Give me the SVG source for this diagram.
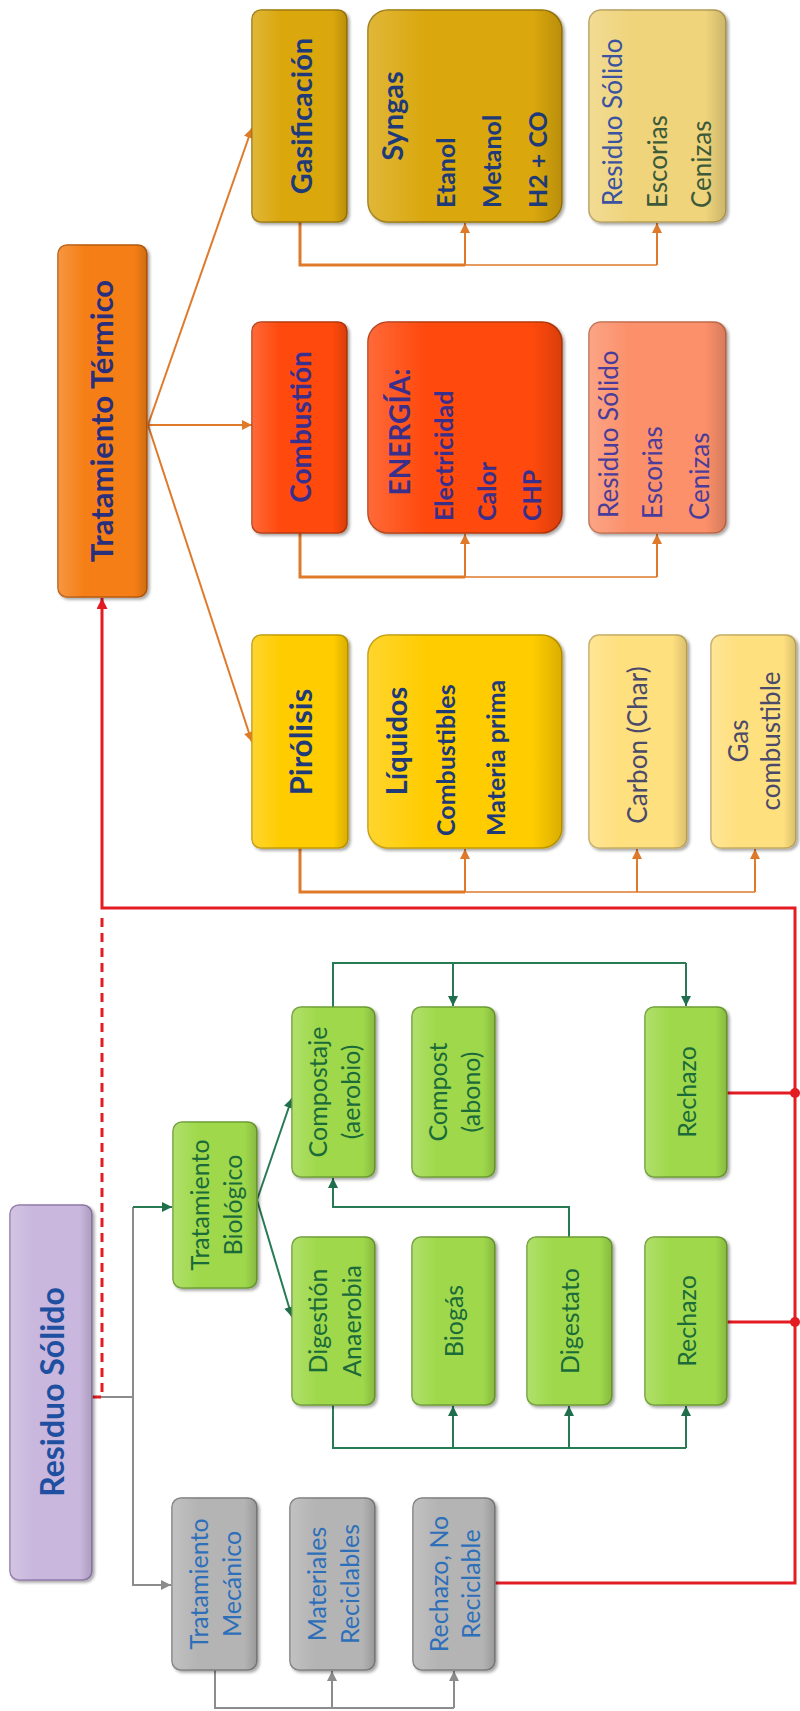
<svg xmlns="http://www.w3.org/2000/svg" width="800" height="1711" viewBox="0 0 800 1711">
<style>
text{font-family:Lato,"Open Sans","Liberation Sans",sans-serif;}
.box{filter:url(#sh);stroke-width:1.5;}
.pur{fill:#c9b7dd;stroke:#8e79a8;}
.ter{fill:#f57f17;stroke:#b85c0c;}
.red{fill:#ff4a0c;stroke:#b5380a;}
.sal{fill:#fb906a;stroke:#c26b4b;}
.gold{fill:#daa70f;stroke:#9c7808;}
.lgold{fill:#efd47b;stroke:#b59d58;}
.yel{fill:#ffcc06;stroke:#c29b05;}
.lyel{fill:#ffe07f;stroke:#c4ab60;}
.grn{fill:#9fd94c;stroke:#6d9d33;}
.gry{fill:#b4b4b4;stroke:#7e7e7e;}
.gl{fill:url(#gloss);stroke:none;pointer-events:none;}
.c-or{fill:none;stroke:#e07a2b;stroke-width:2;}
.c-gn{fill:none;stroke:#287a55;stroke-width:2;}
.c-gy{fill:none;stroke:#8c8c8c;stroke-width:2;}
.c-rd{fill:none;stroke:#e31b23;stroke-width:3;}
.t-main{fill:#1f4fa0;font-size:32px;font-weight:bold;}
.t-ter{fill:#2a2f7c;font-size:31px;font-weight:bold;}
.t-h{fill:#1f3a78;font-size:29px;font-weight:bold;}
.t-hc{fill:#3a2f8a;font-size:28px;font-weight:bold;}
.t-s{fill:#1f3a78;font-size:25px;font-weight:bold;}
.t-sc{fill:#3a2f8a;font-size:25px;font-weight:bold;}
.t-rs{fill:#4a3c9a;font-size:26px;}
.t-rg{fill:#3a52a0;font-size:26px;}
.t-rg2{fill:#3c5a3a;font-size:26px;}
.t-ly{fill:#4a4a6a;font-size:26px;}
.t-g{fill:#1a6a3a;font-size:25px;}
.t-gy{fill:#2e6fba;font-size:25px;}
</style>
<defs>
<filter id="sh" x="-20%" y="-20%" width="140%" height="140%">
<feDropShadow dx="2" dy="2" stdDeviation="1.5" flood-color="#000" flood-opacity="0.35"/>
</filter>
<linearGradient id="gloss" x1="0" y1="0" x2="1" y2="0">
<stop offset="0" stop-color="#fff" stop-opacity="0.18"/>
<stop offset="0.3" stop-color="#fff" stop-opacity="0"/>
<stop offset="0.85" stop-color="#000" stop-opacity="0"/>
<stop offset="1" stop-color="#000" stop-opacity="0.15"/>
</linearGradient>
<marker id="aOr" viewBox="0 0 10 10" refX="10" refY="5" markerWidth="11" markerHeight="10" markerUnits="userSpaceOnUse" orient="auto"><path d="M0,0L10,5L0,10z" fill="#e07a2b"/></marker>
<marker id="aGn" viewBox="0 0 10 10" refX="10" refY="5" markerWidth="11" markerHeight="10" markerUnits="userSpaceOnUse" orient="auto"><path d="M0,0L10,5L0,10z" fill="#1f6e4c"/></marker>
<marker id="aGy" viewBox="0 0 10 10" refX="10" refY="5" markerWidth="11" markerHeight="10" markerUnits="userSpaceOnUse" orient="auto"><path d="M0,0L10,5L0,10z" fill="#8c8c8c"/></marker>
<marker id="aRd" viewBox="0 0 10 10" refX="10" refY="5" markerWidth="13" markerHeight="11" markerUnits="userSpaceOnUse" orient="auto"><path d="M0,0L10,5L0,10z" fill="#e31b23"/></marker>
</defs>

<g id="connectors">
<path class="c-or" d="M148,425L252,128" marker-end="url(#aOr)"/>
<path class="c-or" d="M148,425L252,425" marker-end="url(#aOr)"/>
<path class="c-or" d="M148,425L252,742" marker-end="url(#aOr)"/>
<path class="c-or" d="M300,848V892H465" style="stroke-width:3"/>
<path class="c-or" d="M465,892H755" style="stroke-width:1.6"/>
<path class="c-or" d="M465,892V849" marker-end="url(#aOr)"/>
<path class="c-or" d="M637,892V849" marker-end="url(#aOr)"/>
<path class="c-or" d="M755,892V849" marker-end="url(#aOr)"/>
<path class="c-or" d="M300,533V577H465" style="stroke-width:3"/>
<path class="c-or" d="M465,577H657" style="stroke-width:1.6"/>
<path class="c-or" d="M465,577V534" marker-end="url(#aOr)"/>
<path class="c-or" d="M657,577V534" marker-end="url(#aOr)"/>
<path class="c-or" d="M300,222V265H465" style="stroke-width:3"/>
<path class="c-or" d="M465,265H657" style="stroke-width:1.6"/>
<path class="c-or" d="M465,265V223" marker-end="url(#aOr)"/>
<path class="c-or" d="M657,265V223" marker-end="url(#aOr)"/>
<path class="c-gy" d="M133,1397V1207"/>
<path class="c-gn" d="M133,1207H172" marker-end="url(#aGn)"/>
<path class="c-gn" d="M257,1200L292,1098" marker-end="url(#aGn)"/>
<path class="c-gn" d="M257,1200L292,1317" marker-end="url(#aGn)"/>
<path class="c-gn" d="M333,1405V1448H686"/>
<path class="c-gn" d="M453,1448V1406" marker-end="url(#aGn)"/>
<path class="c-gn" d="M569,1448V1406" marker-end="url(#aGn)"/>
<path class="c-gn" d="M686,1448V1406" marker-end="url(#aGn)"/>
<path class="c-gn" d="M569,1237V1207H333V1178" marker-end="url(#aGn)"/>
<path class="c-gn" d="M333,1007V963H686"/>
<path class="c-gn" d="M453,963V1006" marker-end="url(#aGn)"/>
<path class="c-gn" d="M686,963V1006" marker-end="url(#aGn)"/>
<path class="c-gy" d="M92,1397H133V1585H171" marker-end="url(#aGy)"/>
<path class="c-gy" d="M215,1670V1708H454"/>
<path class="c-gy" d="M332,1708V1671" marker-end="url(#aGy)"/>
<path class="c-gy" d="M454,1708V1671" marker-end="url(#aGy)"/>
<path class="c-rd" d="M92,1397H102V913" stroke-dasharray="9,6"/>
<path class="c-rd" d="M495,1583H795V908H102V598" marker-end="url(#aRd)"/>
<path class="c-rd" d="M727,1322H795"/>
<path class="c-rd" d="M727,1093H795"/>
<circle cx="795" cy="1322" r="5" fill="#e31b23"/>
<circle cx="795" cy="1093" r="5" fill="#e31b23"/>
</g>

<g id="residuo-solido">
<rect class="box pur" x="10" y="1205" width="82" height="375" rx="9"/>
<rect class="gl" x="10" y="1205" width="82" height="375" rx="9"/>
<text class="t-main" transform="translate(51,1392) rotate(-90)" text-anchor="middle" dominant-baseline="central">Residuo Sólido</text>
</g>

<g id="tratamiento-termico">
<rect class="box ter" x="58" y="245" width="89" height="352" rx="9"/>
<rect class="gl" x="58" y="245" width="89" height="352" rx="9"/>
<text class="t-ter" transform="translate(101,421) rotate(-90)" text-anchor="middle" dominant-baseline="central">Tratamiento Térmico</text>
</g>

<g id="gasificacion">
<rect class="box gold" x="252" y="10" width="95" height="212" rx="9"/>
<rect class="gl" x="252" y="10" width="95" height="212" rx="9"/>
<text class="t-h" transform="translate(300,116) rotate(-90)" text-anchor="middle" dominant-baseline="central">Gasificación</text>
</g>
<g id="syngas">
<rect class="box gold" x="368" y="10" width="194" height="212" rx="20"/>
<rect class="gl" x="368" y="10" width="194" height="212" rx="20"/>
<text class="t-h" transform="translate(391,116) rotate(-90)" text-anchor="middle" dominant-baseline="central">Syngas</text>
<text class="t-s" transform="translate(445,208) rotate(-90)" dominant-baseline="central">Etanol</text>
<text class="t-s" transform="translate(491,208) rotate(-90)" dominant-baseline="central">Metanol</text>
<text class="t-s" transform="translate(537,208) rotate(-90)" dominant-baseline="central">H2 + CO</text>
</g>
<g id="residuo-gasificacion">
<rect class="box lgold" x="589" y="10" width="137" height="212" rx="12"/>
<rect class="gl" x="589" y="10" width="137" height="212" rx="12"/>
<text class="t-rg" transform="translate(612,206) rotate(-90)" dominant-baseline="central">Residuo Sólido</text>
<text class="t-rg2" transform="translate(657,208) rotate(-90)" dominant-baseline="central">Escorias</text>
<text class="t-rg2" transform="translate(701,208) rotate(-90)" dominant-baseline="central">Cenizas</text>
</g>

<g id="combustion">
<rect class="box red" x="252" y="322" width="95" height="211" rx="9"/>
<rect class="gl" x="252" y="322" width="95" height="211" rx="9"/>
<text class="t-hc" transform="translate(300,427) rotate(-90)" text-anchor="middle" dominant-baseline="central">Combustión</text>
</g>
<g id="energia">
<rect class="box red" x="368" y="322" width="194" height="211" rx="20"/>
<rect class="gl" x="368" y="322" width="194" height="211" rx="20"/>
<text class="t-hc" transform="translate(399,432) rotate(-90)" text-anchor="middle" dominant-baseline="central">ENERGÍA:</text>
<text class="t-sc" transform="translate(443,521) rotate(-90)" dominant-baseline="central">Electricidad</text>
<text class="t-sc" transform="translate(486,521) rotate(-90)" dominant-baseline="central">Calor</text>
<text class="t-sc" transform="translate(531,521) rotate(-90)" dominant-baseline="central">CHP</text>
</g>
<g id="residuo-combustion">
<rect class="box sal" x="589" y="322" width="137" height="211" rx="12"/>
<rect class="gl" x="589" y="322" width="137" height="211" rx="12"/>
<text class="t-rs" transform="translate(608,518) rotate(-90)" dominant-baseline="central">Residuo Sólido</text>
<text class="t-rs" transform="translate(652,519) rotate(-90)" dominant-baseline="central">Escorias</text>
<text class="t-rs" transform="translate(699,520) rotate(-90)" dominant-baseline="central">Cenizas</text>
</g>

<g id="pirolisis">
<rect class="box yel" x="252" y="635" width="96" height="213" rx="9"/>
<rect class="gl" x="252" y="635" width="96" height="213" rx="9"/>
<text class="t-h" transform="translate(300,742) rotate(-90)" text-anchor="middle" dominant-baseline="central" style="font-size:31px">Pirólisis</text>
</g>
<g id="liquidos">
<rect class="box yel" x="368" y="635" width="194" height="213" rx="20"/>
<rect class="gl" x="368" y="635" width="194" height="213" rx="20"/>
<text class="t-h" transform="translate(395,741) rotate(-90)" text-anchor="middle" dominant-baseline="central">Líquidos</text>
<text class="t-s" transform="translate(445,836) rotate(-90)" dominant-baseline="central">Combustibles</text>
<text class="t-s" transform="translate(495,836) rotate(-90)" dominant-baseline="central">Materia prima</text>
</g>
<g id="carbon">
<rect class="box lyel" x="589" y="635" width="98" height="213" rx="10"/>
<rect class="gl" x="589" y="635" width="98" height="213" rx="10"/>
<text class="t-ly" transform="translate(637,745) rotate(-90)" text-anchor="middle" dominant-baseline="central">Carbon (Char)</text>
</g>
<g id="gas-combustible">
<rect class="box lyel" x="711" y="635" width="85" height="213" rx="10"/>
<rect class="gl" x="711" y="635" width="85" height="213" rx="10"/>
<text class="t-ly" transform="translate(738,741) rotate(-90)" text-anchor="middle" dominant-baseline="central">Gas</text>
<text class="t-ly" transform="translate(770,741) rotate(-90)" text-anchor="middle" dominant-baseline="central">combustible</text>
</g>

<g id="tratamiento-biologico">
<rect class="box grn" x="173" y="1122" width="84" height="166" rx="9"/>
<rect class="gl" x="173" y="1122" width="84" height="166" rx="9"/>
<text class="t-g" transform="translate(199,1205) rotate(-90)" text-anchor="middle" dominant-baseline="central">Tratamiento</text>
<text class="t-g" transform="translate(232,1205) rotate(-90)" text-anchor="middle" dominant-baseline="central">Biológico</text>
</g>
<g id="compostaje">
<rect class="box grn" x="292" y="1007" width="83" height="170" rx="9"/>
<rect class="gl" x="292" y="1007" width="83" height="170" rx="9"/>
<text class="t-g" transform="translate(317,1092) rotate(-90)" text-anchor="middle" dominant-baseline="central">Compostaje</text>
<text class="t-g" transform="translate(350,1092) rotate(-90)" text-anchor="middle" dominant-baseline="central">(aerobio)</text>
</g>
<g id="compost">
<rect class="box grn" x="412" y="1007" width="83" height="170" rx="9"/>
<rect class="gl" x="412" y="1007" width="83" height="170" rx="9"/>
<text class="t-g" transform="translate(437,1092) rotate(-90)" text-anchor="middle" dominant-baseline="central">Compost</text>
<text class="t-g" transform="translate(470,1092) rotate(-90)" text-anchor="middle" dominant-baseline="central">(abono)</text>
</g>
<g id="rechazo-compostaje">
<rect class="box grn" x="645" y="1007" width="82" height="170" rx="9"/>
<rect class="gl" x="645" y="1007" width="82" height="170" rx="9"/>
<text class="t-g" transform="translate(686,1092) rotate(-90)" text-anchor="middle" dominant-baseline="central">Rechazo</text>
</g>
<g id="digestion">
<rect class="box grn" x="292" y="1237" width="83" height="168" rx="9"/>
<rect class="gl" x="292" y="1237" width="83" height="168" rx="9"/>
<text class="t-g" transform="translate(317,1321) rotate(-90)" text-anchor="middle" dominant-baseline="central">Digestión</text>
<text class="t-g" transform="translate(351,1321) rotate(-90)" text-anchor="middle" dominant-baseline="central">Anaerobia</text>
</g>
<g id="biogas">
<rect class="box grn" x="412" y="1237" width="83" height="168" rx="9"/>
<rect class="gl" x="412" y="1237" width="83" height="168" rx="9"/>
<text class="t-g" transform="translate(453,1321) rotate(-90)" text-anchor="middle" dominant-baseline="central">Biogás</text>
</g>
<g id="digestato">
<rect class="box grn" x="527" y="1237" width="85" height="168" rx="9"/>
<rect class="gl" x="527" y="1237" width="85" height="168" rx="9"/>
<text class="t-g" transform="translate(569,1321) rotate(-90)" text-anchor="middle" dominant-baseline="central">Digestato</text>
</g>
<g id="rechazo-digestion">
<rect class="box grn" x="645" y="1237" width="82" height="168" rx="9"/>
<rect class="gl" x="645" y="1237" width="82" height="168" rx="9"/>
<text class="t-g" transform="translate(686,1321) rotate(-90)" text-anchor="middle" dominant-baseline="central">Rechazo</text>
</g>

<g id="tratamiento-mecanico">
<rect class="box gry" x="172" y="1498" width="85" height="172" rx="9"/>
<rect class="gl" x="172" y="1498" width="85" height="172" rx="9"/>
<text class="t-gy" transform="translate(198,1584) rotate(-90)" text-anchor="middle" dominant-baseline="central">Tratamiento</text>
<text class="t-gy" transform="translate(231,1584) rotate(-90)" text-anchor="middle" dominant-baseline="central">Mecánico</text>
</g>
<g id="materiales-reciclables">
<rect class="box gry" x="290" y="1498" width="85" height="172" rx="9"/>
<rect class="gl" x="290" y="1498" width="85" height="172" rx="9"/>
<text class="t-gy" transform="translate(316,1584) rotate(-90)" text-anchor="middle" dominant-baseline="central">Materiales</text>
<text class="t-gy" transform="translate(349,1584) rotate(-90)" text-anchor="middle" dominant-baseline="central">Reciclables</text>
</g>
<g id="rechazo-no-reciclable">
<rect class="box gry" x="413" y="1498" width="82" height="172" rx="9"/>
<rect class="gl" x="413" y="1498" width="82" height="172" rx="9"/>
<text class="t-gy" transform="translate(438,1584) rotate(-90)" text-anchor="middle" dominant-baseline="central">Rechazo, No</text>
<text class="t-gy" transform="translate(470,1584) rotate(-90)" text-anchor="middle" dominant-baseline="central">Reciclable</text>
</g>
</svg>
